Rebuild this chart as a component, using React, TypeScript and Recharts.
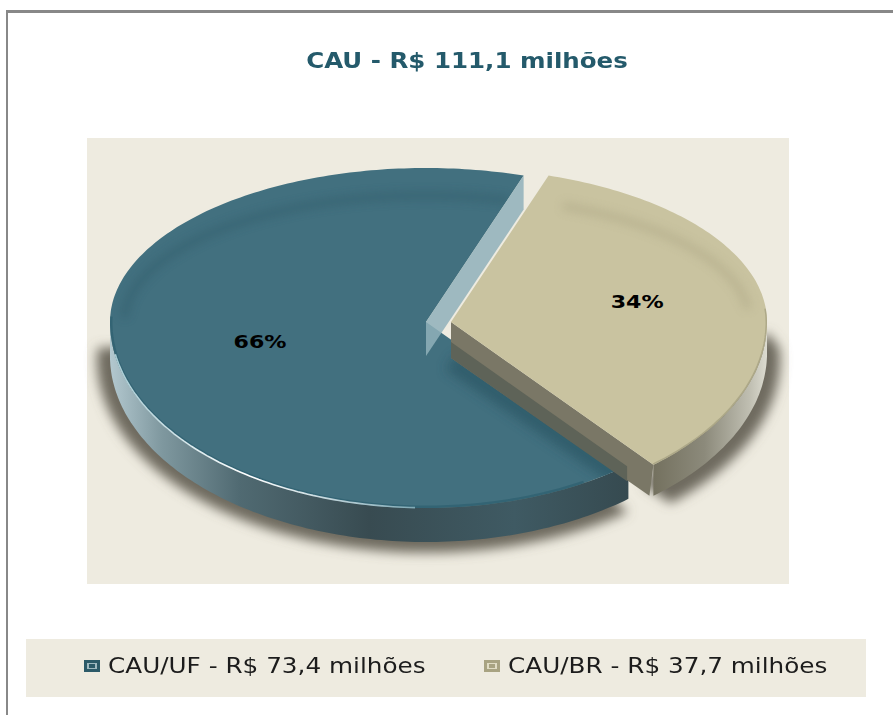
import { PieChart, Pie, Legend } from 'recharts';

const categories = ['CAU/UF', 'CAU/BR'];
const values = [73.4, 37.7];
const total = 111.1;

const topColors = ['#42707f', '#c9c3a0'];
const explode = [0, 25];
const depths = [34, 31];
const labelRadius = [0.535, 0.6];
const labelShift = [1, -3];

const R = 316;
const TOP_RATIO = 154 / 316;
const BOTTOM_RATIO = 186 / 316;
const rad = Math.PI / 180;

const money = (v: number) => v.toFixed(1).replace('.', ',');
const pieData = categories.map((name, i) => ({ name, value: values[i] }));

function pt(cx: number, cy: number, r: number, a: number, dy = 0) {
  const s = Math.sin(a * rad);
  const ratio = s >= 0 ? TOP_RATIO : BOTTOM_RATIO;
  return [cx + r * Math.cos(a * rad), cy - r * ratio * s + dy];
}

function arc(cx: number, cy: number, r: number, a0: number, a1: number, dy = 0) {
  const pts: number[][] = [];
  const n = Math.max(2, Math.ceil(Math.abs(a1 - a0)));
  for (let i = 0; i <= n; i++) pts.push(pt(cx, cy, r, a0 + ((a1 - a0) * i) / n, dy));
  return pts;
}

// inner groove of the disc: flatter than the rim at the back
const groove = (cx: number, cy: number, r: number, a0: number, a1: number) =>
  arc(cx, cy, r, a0, a1).map((p) => [p[0], cy + (p[1] - cy) * 0.86]);

const toPath = (pts: number[][], close = false) =>
  pts.map((p, i) => `${i ? 'L' : 'M'}${p[0].toFixed(1)} ${p[1].toFixed(1)}`).join(' ') + (close ? ' Z' : '');

function Defs() {
  return (
    <defs>
      <filter id="blur6" x="-20%" y="-20%" width="140%" height="140%">
        <feGaussianBlur stdDeviation="6" />
      </filter>
      <filter id="blur4" x="-20%" y="-20%" width="140%" height="140%">
        <feGaussianBlur stdDeviation="5" />
      </filter>
      <linearGradient id="sideBlue" x1="0" x2="1" y1="0" y2="0">
        <stop offset="0" stopColor="#b3c8cf" />
        <stop offset="0.1" stopColor="#7f989f" />
        <stop offset="0.25" stopColor="#506a72" />
        <stop offset="0.5" stopColor="#384b51" />
        <stop offset="0.78" stopColor="#3f5a63" />
        <stop offset="1" stopColor="#364a50" />
      </linearGradient>
      <linearGradient id="sideBeige" x1="0" x2="1" y1="0" y2="0">
        <stop offset="0" stopColor="#74715f" />
        <stop offset="0.45" stopColor="#8c8a7b" />
        <stop offset="0.85" stopColor="#c0bfb2" />
        <stop offset="1" stopColor="#dcdbd0" />
      </linearGradient>
      <linearGradient id="hiLite" x1="0" x2="1" y1="0" y2="0">
        <stop offset="0" stopColor="#a9ccd4" />
        <stop offset="0.45" stopColor="#ffffff" />
        <stop offset="1" stopColor="#7fa9b5" />
      </linearGradient>
    </defs>
  );
}

function SliceShape(props: any) {
  const { cx, cy, outerRadius, startAngle, endAngle, index } = props;
  const x = cx + explode[index];
  const d = depths[index];
  const top = [[x, cy], ...arc(x, cy, outerRadius, startAngle, endAngle)];
  const clipId = `slice-${index}`;

  if (index === 0) {
    const rimStart = pt(x, cy, outerRadius, startAngle);
    const beigeX = cx + explode[1];
    const tip = pt(beigeX, cy, outerRadius, endAngle);
    return (
      <g>
        <Defs />
        <path
          d={toPath([[x, cy + 20], ...arc(x, cy + 37, outerRadius + 13, 176, endAngle - 2)], true)}
          fill="#6e6a5f"
          filter="url(#blur6)"
        />
        <path
          d={toPath([...arc(x, cy, outerRadius, 180, endAngle), ...arc(x, cy, outerRadius, endAngle, 180, d)], true)}
          fill="url(#sideBlue)"
        />
        <clipPath id={clipId}>
          <path d={toPath(top, true)} />
        </clipPath>
        <path d={toPath(top, true)} fill={topColors[0]} />
        <g clipPath={`url(#${clipId})`}>
          <path
            d={toPath(groove(x, cy, outerRadius * 0.955, startAngle + 2, 178))}
            fill="none"
            stroke="#2e5866"
            strokeWidth={8}
            opacity={0.4}
            filter="url(#blur4)"
          />
          <path
            d={toPath([[beigeX, cy + 40], [tip[0] - 5, tip[1] + 32]])}
            fill="none"
            stroke="#2c5563"
            strokeWidth={18}
            opacity={0.7}
            filter="url(#blur6)"
          />
          <path
            d={toPath(arc(x, cy, outerRadius, 178, 300))}
            fill="none"
            stroke="#2f6070"
            strokeWidth={5}
            opacity={0.75}
          />
        </g>
        <path
          d={toPath(arc(x, cy, outerRadius - 0.5, 190, 268))}
          fill="none"
          stroke="url(#hiLite)"
          strokeWidth={1.6}
        />
        <path
          d={toPath([[x, cy], rimStart, [rimStart[0], rimStart[1] + 34], [x, cy + 34]], true)}
          fill="#8fb0ba"
          opacity={0.85}
        />
      </g>
    );
  }

  const tip = pt(x, cy, outerRadius, startAngle);
  const f = 0.87;
  const mid = [x + f * (tip[0] - x), cy + f * (tip[1] - cy)];
  return (
    <g>
      <path
        d={toPath([[tip[0] - 10, tip[1] + 20], ...arc(x, cy + 37, outerRadius + 13, startAngle + 2, 364), [x + outerRadius, cy + 10]], true)}
        fill="#6e6a5f"
        filter="url(#blur6)"
      />
      <path
        d={toPath([...arc(x, cy, outerRadius, startAngle, 360), ...arc(x, cy, outerRadius, 360, startAngle, d)], true)}
        fill="url(#sideBeige)"
      />
      <path
        d={toPath([[x, cy], tip, [tip[0] - 4, tip[1] + d], [x, cy + 36]], true)}
        fill="#7a7766"
      />
      <path
        d={toPath([[x, cy + 20], [mid[0], mid[1] + 20], [mid[0], mid[1] + 35], [x, cy + 36]], true)}
        fill="#5e6358"
      />
      <clipPath id={clipId}>
        <path d={toPath(top, true)} />
      </clipPath>
      <path d={toPath(top, true)} fill={topColors[1]} />
      <g clipPath={`url(#${clipId})`}>
        <path
          d={toPath(groove(x, cy, outerRadius * 0.945, endAngle - 4, 360 + 6))}
          fill="none"
          stroke="#a9a381"
          strokeWidth={8}
          opacity={0.45}
          filter="url(#blur4)"
        />
        <path
          d={toPath(arc(x, cy, outerRadius, startAngle, 365))}
          fill="none"
          stroke="#a19c7e"
          strokeWidth={3}
          opacity={0.7}
        />
      </g>
    </g>
  );
}

function SliceLabel(props: any) {
  const { cx, cy, midAngle, outerRadius, percent, index } = props;
  const p = pt(cx + explode[index], cy, outerRadius * labelRadius[index], midAngle);
  return (
    <text
      x={p[0]}
      y={p[1] + labelShift[index]}
      textAnchor="middle"
      dominantBaseline="central"
      fontFamily="DejaVu Sans"
      fontWeight="bold"
      fontSize={18}
      fill="#000000"
      textLength={53}
      lengthAdjust="spacingAndGlyphs"
    >
      {`${Math.round(percent * 100)}%`}
    </text>
  );
}

function LegendIcon({ index }: { index: number }) {
  const colors = [
    ['#2c5a68', '#9fb9c0'],
    ['#a8a382', '#e0dcc4'],
  ][index];
  return (
    <svg width={16} height={12} style={{ marginRight: 8, flex: 'none' }}>
      <rect width={16} height={12} fill={colors[0]} />
      <rect x={3} y={3} width={10} height={6} fill={colors[1]} />
      <rect x={5} y={4} width={6} height={4} fill={colors[0]} />
    </svg>
  );
}

function ChartLegend({ payload }: any) {
  return (
    <div style={{ display: 'flex', fontFamily: 'DejaVu Sans', fontSize: 21, color: '#1c1c1c', lineHeight: '26px' }}>
      {(payload || []).map((item: any, i: number) => (
        <div
          key={item.value}
          style={{ display: 'flex', alignItems: 'center', width: i === 0 ? 400 : 360, whiteSpace: 'nowrap' }}
        >
          <LegendIcon index={i} />
          <span style={{ display: 'inline-block', transform: 'scaleX(1.176)', transformOrigin: 'left center' }}>
            {`${item.value} - R$ ${money(values[i])} milhões`}
          </span>
        </div>
      ))}
    </div>
  );
}

export default function App() {
  return (
    <div style={{ position: 'absolute', left: 0, top: 0, width: 893, height: 715, background: '#ffffff', overflow: 'hidden' }}>
      <div style={{ position: 'absolute', left: 6, top: 10, width: 887, height: 705, borderLeft: '2px solid #888888', borderTop: '3px solid #888888', boxSizing: 'border-box' }} />
      <div style={{ position: 'absolute', left: 87, top: 138, width: 702, height: 446, background: '#eeebe0' }} />
      <div style={{ position: 'absolute', left: 26, top: 639, width: 840, height: 58, background: '#eeebe0' }} />
      <div
        style={{
          position: 'absolute',
          left: 167,
          top: 46,
          width: 600,
          textAlign: 'center',
          fontFamily: 'DejaVu Sans',
          fontWeight: 'bold',
          fontSize: 21,
          lineHeight: '30px',
          color: '#245a6b',
          whiteSpace: 'nowrap',
          transform: 'scaleX(1.167)',
        }}
      >
        {`CAU - R$ ${money(total)} milhões`}
      </div>
      <div style={{ position: 'absolute', left: 0, top: 0 }}>
        <PieChart width={893} height={715} margin={{ top: 0, right: 0, bottom: 0, left: 0 }}>
          <Pie
            data={pieData}
            dataKey="value"
            nameKey="name"
            cx={426}
            cy={322}
            innerRadius={0}
            outerRadius={R}
            startAngle={72}
            endAngle={432}
            stroke="none"
            shape={SliceShape}
            label={SliceLabel}
            labelLine={false}
            isAnimationActive={false}
          />
          <Legend
            content={ChartLegend}
            itemSorter={null}
            wrapperStyle={{ position: 'absolute', left: 84, top: 653, width: 780, bottom: 'auto' }}
          />
        </PieChart>
      </div>
    </div>
  );
}
